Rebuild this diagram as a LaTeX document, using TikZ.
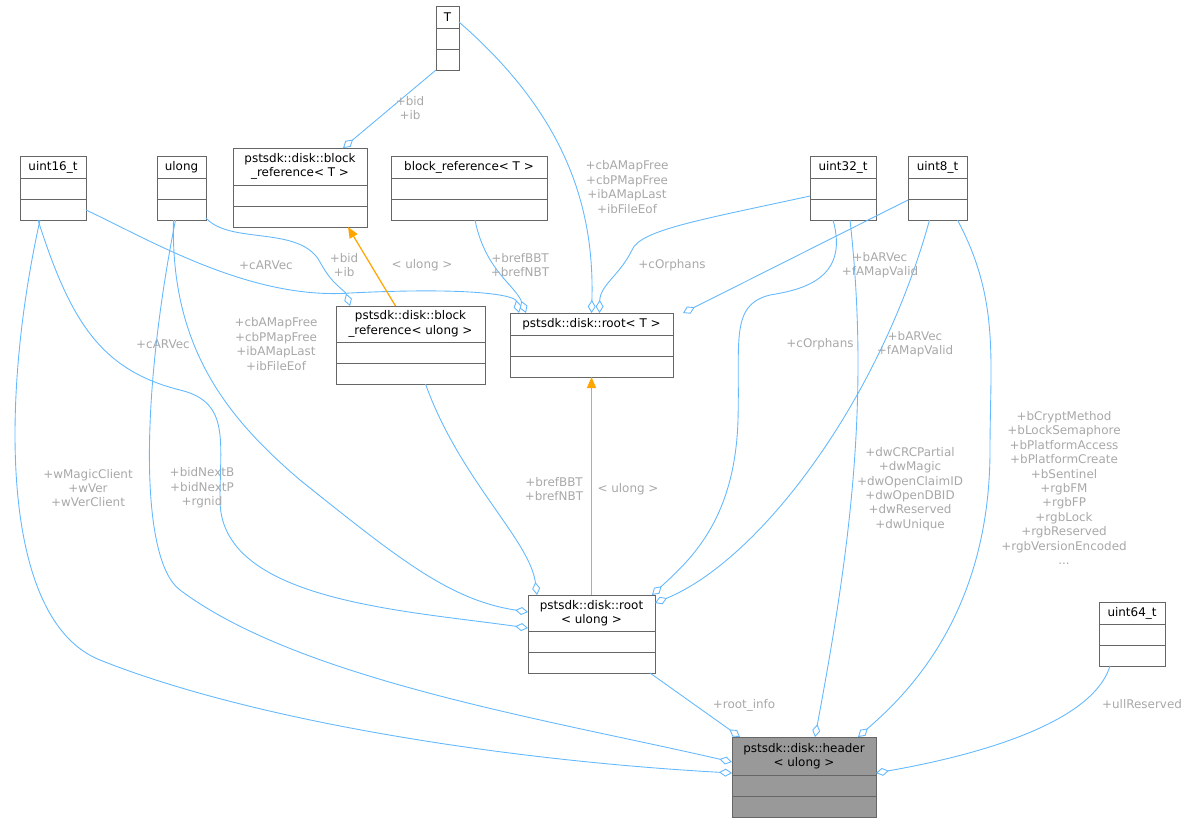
\documentclass[tikz,border=0pt]{standalone}
\usepackage{fontspec}
\setmainfont{DejaVu Sans}
\usetikzlibrary{arrows.meta,calc}
\definecolor{edgeblue}{HTML}{63B8FF}
\definecolor{edgeorange}{HTML}{FFA500}
\definecolor{labelgrey}{HTML}{A8A8A8}
\definecolor{boxline}{HTML}{666666}
\tikzset{
  cls/.style={draw=boxline,line width=0.5pt,inner sep=0pt,outer sep=0pt},
  clstext/.style={font=\fontsize{6.8}{8.2}\selectfont,align=center,inner sep=0pt},
  agg/.style={draw=edgeblue,line width=0.5pt,-{Diamond[open,fill=white,length=2.6mm,width=1.6mm]}},
  inh/.style={draw=edgeorange,line width=0.7pt,-{Triangle[length=2.2mm,width=1.8mm]}},
  lbl/.style={font=\fontsize{6.8}{8.2}\selectfont,text=labelgrey,align=center,inner sep=0pt}
}
% class box: [fill]{name}{x}{y}{w}{h}{text}
\newcommand\umlcls[7][white]{%
  \node[cls,fill=#1,minimum width=#5*0.2mm,minimum height=#6*0.2mm] (#2) at (#3,#4) {};
  \draw[boxline,line width=0.5pt] ([yshift=21*0.2mm]#2.south west) -- ([yshift=21*0.2mm]#2.south east);
  \draw[boxline,line width=0.5pt] ([yshift=42*0.2mm]#2.south west) -- ([yshift=42*0.2mm]#2.south east);
  \node[clstext] (#2-t) at ($(#2.north)!0.5!([yshift=42*0.2mm]#2.south)$) {#7};
}
\begin{document}
\begin{tikzpicture}[x=0.02cm,y=-0.02cm]
  \useasboundingbox (0,0) rectangle (1193,823);

  \umlcls{T}{447.5}{38}{23}{64}{T}
  \umlcls{brefT}{300}{187.5}{134}{79}{pstsdk::disk::block\\\_reference< T >}
  \umlcls{bref}{469}{188}{156}{64}{block\_reference< T >}
  \umlcls{uinta}{53}{188}{66}{64}{uint16\_t}
  \umlcls{ulong}{181.5}{188}{49}{64}{ulong}
  \umlcls{uintc}{843}{188}{66}{64}{uint32\_t}
  \umlcls{uintb}{937.5}{188}{59}{64}{uint8\_t}
  \umlcls{brefU}{410.5}{345}{149}{78}{pstsdk::disk::block\\\_reference< ulong >}
  \umlcls{rootT}{591.5}{345}{163}{64}{pstsdk::disk::root< T >}
  \umlcls{rootU}{591.5}{634}{127}{78}{pstsdk::disk::root\\< ulong >}
  \umlcls{uintd}{1132}{634}{66}{64}{uint64\_t}
  \umlcls[black!40]{header}{804}{777}{144}{80}{pstsdk::disk::header\\< ulong >}

  % members of root< T >
  \draw[agg] (T.south west) -- ([xshift=43*0.2mm]brefT.north);
  \draw[agg] ([yshift=16*0.2mm]T.east) .. controls (560,110) and (595,200) .. (rootT.north);
  \draw[agg] ([yshift=-22*0.2mm]uinta.east) .. controls (150,240) and (250,300) .. (350,293)
    .. controls (470,287) and (515,295) .. ([xshift=9*0.2mm]rootT.north west);
  \draw[agg] ([yshift=-30*0.2mm]ulong.east) .. controls (230,245) and (300,225) .. (320,262)
    .. controls (332,285) and (345,290) .. ([xshift=14*0.2mm]brefU.north west);
  \draw[agg] ([xshift=6*0.2mm]bref.south) .. controls (485,270) and (515,285) .. ([xshift=16*0.2mm]rootT.north west);
  \draw[agg] ([yshift=-8*0.2mm]uintc.west) .. controls (700,220) and (640,230) .. (632,250)
    .. controls (620,275) and (600,285) .. ([xshift=8*0.2mm]rootT.north);
  \draw[agg] ([yshift=-12*0.2mm]uintb.west) -- ([xshift=10*0.2mm]rootT.north east);

  % members of root< ulong >
  \draw[agg] ([xshift=-15*0.2mm]uinta.south) .. controls (70,320) and (100,370) .. (180,390)
    .. controls (230,402) and (220,440) .. (220,500)
    .. controls (220,600) and (400,610) .. ([yshift=6*0.2mm]rootU.west);
  \draw[agg] ([xshift=-8*0.2mm]ulong.south) .. controls (170,350) and (230,420) .. (300,480)
    .. controls (400,560) and (450,600) .. ([yshift=22*0.2mm]rootU.west);
  \draw[agg] ([xshift=15*0.2mm]brefU.south) .. controls (460,480) and (530,540) .. ([xshift=9*0.2mm]rootU.north west);
  \draw[agg] ([xshift=-10*0.2mm]uintc.south) .. controls (850,280) and (800,290) .. (770,295)
    .. controls (730,305) and (740,340) .. (738,420)
    .. controls (735,520) and (690,560) .. ([xshift=-3*0.2mm]rootU.north east);
  \draw[agg] ([xshift=-8*0.2mm]uintb.south) .. controls (880,400) and (760,560) .. ([yshift=-8*0.2mm]rootU.north east);

  % members of header< ulong >
  \draw[agg] ([xshift=-13*0.2mm]uinta.south) .. controls (0,400) and (0,620) .. (100,660)
    .. controls (250,720) and (500,760) .. ([yshift=4*0.2mm]header.west);
  \draw[agg] ([xshift=-6*0.2mm]ulong.south) .. controls (140,400) and (140,560) .. (180,590)
    .. controls (300,680) and (550,720) .. ([yshift=15*0.2mm]header.west);
  \draw[agg] ([xshift=-5*0.2mm]rootU.south east) -- ([xshift=8*0.2mm]header.north west);
  \draw[agg] ([xshift=7*0.2mm]uintc.south) .. controls (870,400) and (850,550) .. ([xshift=11*0.2mm]header.north);
  \draw[agg] ([xshift=20*0.2mm]uintb.south) .. controls (1000,300) and (990,360) .. (990,450)
    .. controls (990,620) and (900,700) .. ([xshift=-18*0.2mm]header.north east);
  \draw[agg] ([xshift=-22*0.2mm]uintd.south) .. controls (1090,730) and (950,760) .. ([yshift=4*0.2mm]header.east);

  % template instances
  \draw[inh] ([xshift=-15*0.2mm]brefU.north) -- ([xshift=48*0.2mm]brefT.south);
  \draw[inh] (rootU.north) -- (rootT.south);

  % labels
  \node[lbl] at (410,108) {+bid\\+ib};
  \node[lbl] at (627,187) {+cbAMapFree\\+cbPMapFree\\+ibAMapLast\\+ibFileEof};
  \node[lbl] at (266,265) {+cARVec};
  \node[lbl] at (344,265) {+bid\\+ib};
  \node[lbl] at (422,265) {< ulong >};
  \node[lbl] at (520,265) {+brefBBT\\+brefNBT};
  \node[lbl] at (672,265) {+cOrphans};
  \node[lbl] at (880,265) {+bARVec\\+fAMapValid};
  \node[lbl] at (163,344) {+cARVec};
  \node[lbl] at (276,344) {+cbAMapFree\\+cbPMapFree\\+ibAMapLast\\+ibFileEof};
  \node[lbl] at (820,344) {+cOrphans};
  \node[lbl] at (915,344) {+bARVec\\+fAMapValid};
  \node[lbl] at (88,488) {+wMagicClient\\+wVer\\+wVerClient};
  \node[lbl] at (202,488) {+bidNextB\\+bidNextP\\+rgnid};
  \node[lbl] at (554,489) {+brefBBT\\+brefNBT};
  \node[lbl] at (628,489) {< ulong >};
  \node[lbl] at (910,489) {+dwCRCPartial\\+dwMagic\\+dwOpenClaimID\\+dwOpenDBID\\+dwReserved\\+dwUnique};
  \node[lbl] at (1064,488) {+bCryptMethod\\+bLockSemaphore\\+bPlatformAccess\\+bPlatformCreate\\+bSentinel\\+rgbFM\\+rgbFP\\+rgbLock\\+rgbReserved\\+rgbVersionEncoded\\...};
  \node[lbl] at (744,705) {+root\_info};
  \node[lbl] at (1142,704) {+ullReserved};
\end{tikzpicture}
\end{document}
